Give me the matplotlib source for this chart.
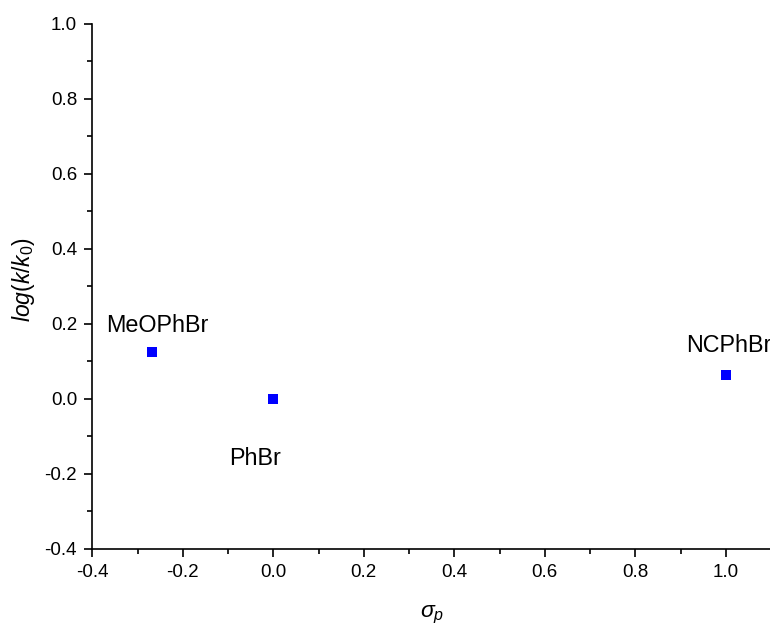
import matplotlib
matplotlib.use('Agg')
import matplotlib.pyplot as plt
from matplotlib.ticker import MultipleLocator

# substituent constants and relative rates
names = ['MeOPhBr', 'PhBr', 'NCPhBr']
sigma_p = [-0.268, 0.0, 1.0]
log_k = [0.126, 0.0, 0.064]
# where each name sits (data coords, left/baseline of text)
label_x = [-0.370, -0.097, 0.912]
label_y = [0.178, -0.176, 0.1245]

plt.rcParams['font.family'] = ['Liberation Sans', 'DejaVu Sans']
plt.rcParams['mathtext.fontset'] = 'custom'
plt.rcParams['mathtext.it'] = 'Liberation Sans:italic'
plt.rcParams['mathtext.rm'] = 'Liberation Sans'
plt.rcParams['axes.unicode_minus'] = False

fig = plt.figure(figsize=(7.7, 6.28), dpi=100)
ax = fig.add_axes([0.1199, 0.1263, 0.8814, 0.8355])

ax.plot(sigma_p, log_k, 's', color='#0000ff', markersize=7, markeredgewidth=0, clip_on=False)
for n, tx, ty in zip(names, label_x, label_y):
    ax.text(tx, ty, n, fontsize=16.8, ha='left', va='baseline', clip_on=False)

ax.set_xlim(-0.4, 1.1)
ax.set_ylim(-0.4, 1.0)
ax.xaxis.set_major_locator(MultipleLocator(0.2))
ax.xaxis.set_minor_locator(MultipleLocator(0.1))
ax.yaxis.set_major_locator(MultipleLocator(0.2))
ax.yaxis.set_minor_locator(MultipleLocator(0.1))
ax.xaxis.set_major_formatter(plt.FormatStrFormatter('%.1f'))
ax.yaxis.set_major_formatter(plt.FormatStrFormatter('%.1f'))

ax.spines['top'].set_visible(False)
ax.spines['right'].set_visible(False)
ax.spines['left'].set_linewidth(1.2)
ax.spines['bottom'].set_linewidth(1.2)
ax.tick_params(which='major', direction='out', length=6, width=1.2, labelsize=13.5, pad=5)
ax.tick_params(which='minor', direction='out', length=3.4, width=1.2)

ax.set_xlabel(r'$\sigma_p$', fontsize=16.5, labelpad=16)
ax.set_ylabel(r'$log(k/k_0)$', fontsize=16.5)
ax.yaxis.set_label_coords(-0.0815, 0.514)

fig.savefig('out.png', dpi=100)
